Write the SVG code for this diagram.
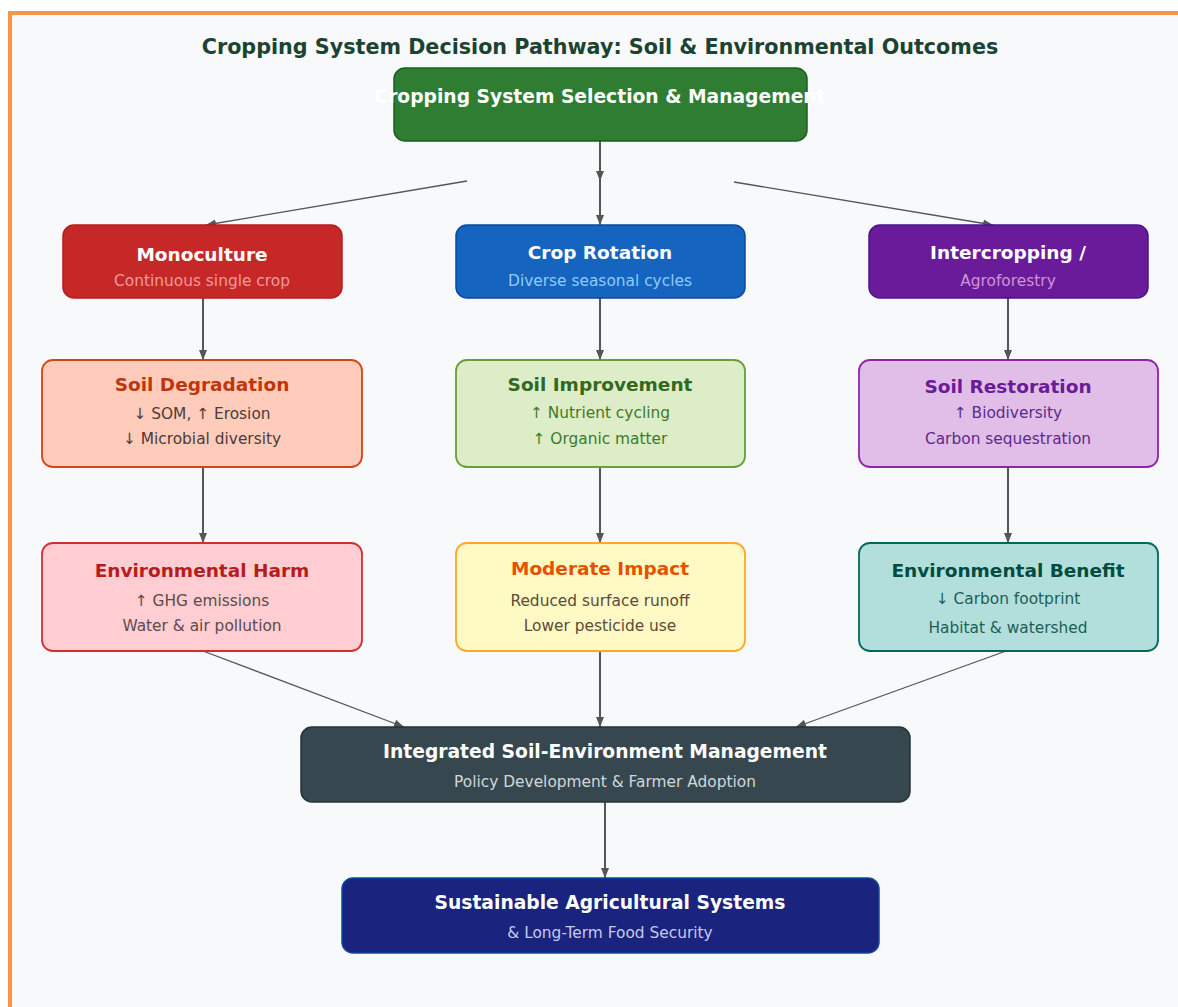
<svg xmlns="http://www.w3.org/2000/svg" width="1178" height="1007" viewBox="0 0 1178 1007">
<style>
text{font-family:"DejaVu Sans","Liberation Sans",sans-serif;text-anchor:middle}
.t{font-weight:bold;font-size:18.5px}
.b{font-weight:bold;font-size:18.7px}
.s{font-size:15.4px}
.w{fill:#ffffff}
.c{stroke:#555555;stroke-width:2;fill:none}
.d{stroke:#555555;stroke-width:1.3;fill:none}
</style>
<defs>
<marker id="ah" viewBox="0 0 10 10" refX="10" refY="5" markerWidth="10" markerHeight="10" markerUnits="userSpaceOnUse" orient="auto">
<path d="M0,1 L10,5 L0,9 z" fill="#555555"/>
</marker>
</defs>
<rect x="0" y="0" width="1178" height="1007" fill="#ffffff"/>
<rect x="10" y="13" width="1220" height="1100" fill="#f8f9fa" stroke="#f79646" stroke-width="4"/>
<text x="600" y="54" style="font-weight:bold;font-size:20.7px;fill:#1b4332">Cropping System Decision Pathway: Soil &amp; Environmental Outcomes</text>

<g id="connectors">
<line class="c" x1="600" y1="141" x2="600" y2="181" marker-end="url(#ah)"/>
<line class="c" x1="600" y1="181" x2="600" y2="225" marker-end="url(#ah)"/>
<line class="d" x1="467" y1="181" x2="206" y2="225" marker-end="url(#ah)"/>
<line class="d" x1="734" y1="182" x2="993" y2="225" marker-end="url(#ah)"/>
<line class="c" x1="203" y1="298" x2="203" y2="360" marker-end="url(#ah)"/>
<line class="c" x1="600" y1="298" x2="600" y2="360" marker-end="url(#ah)"/>
<line class="c" x1="1008" y1="298" x2="1008" y2="360" marker-end="url(#ah)"/>
<line class="c" x1="203" y1="467" x2="203" y2="543" marker-end="url(#ah)"/>
<line class="c" x1="600" y1="467" x2="600" y2="543" marker-end="url(#ah)"/>
<line class="c" x1="1008" y1="467" x2="1008" y2="543" marker-end="url(#ah)"/>
<line class="d" x1="203" y1="651" x2="404" y2="727" marker-end="url(#ah)"/>
<line class="c" x1="600" y1="651" x2="600" y2="727" marker-end="url(#ah)"/>
<line class="d" x1="1006" y1="651" x2="796" y2="727" marker-end="url(#ah)"/>
<line class="c" x1="605" y1="802" x2="605" y2="878" marker-end="url(#ah)"/>
</g>

<g id="n-top">
<rect x="394" y="68" width="413" height="73" rx="11" fill="#2e7d32" stroke="#1b5e20" stroke-width="1.5"/>
<text x="600" y="103" class="b w">Cropping System Selection &amp; Management</text>
</g>

<g id="n-mono">
<rect x="63" y="225" width="279" height="73" rx="11" fill="#c62828" stroke="#b71c1c" stroke-width="1.5"/>
<text x="202" y="261" class="t w">Monoculture</text>
<text x="202" y="286" class="s" fill="#ef9a9a">Continuous single crop</text>
</g>

<g id="n-rot">
<rect x="456" y="225" width="289" height="73" rx="11" fill="#1565c0" stroke="#0d47a1" stroke-width="1.5"/>
<text x="600" y="259" class="t w">Crop Rotation</text>
<text x="600" y="286" class="s" fill="#90caf9">Diverse seasonal cycles</text>
</g>

<g id="n-inter">
<rect x="869" y="225" width="279" height="73" rx="11" fill="#6a1b9a" stroke="#4a148c" stroke-width="1.5"/>
<text x="1008" y="259" class="t w">Intercropping /</text>
<text x="1008" y="286" class="s" fill="#ce93d8">Agroforestry</text>
</g>

<g id="n-deg">
<rect x="42" y="360" width="320" height="107" rx="11" fill="#ffccbc" stroke="#d84315" stroke-width="1.8"/>
<text x="202" y="391" class="t" fill="#bf360c">Soil Degradation</text>
<text x="202" y="419" class="s" fill="#4e3b36">↓ SOM, ↑ Erosion</text>
<text x="202" y="444" class="s" fill="#4e3b36">↓ Microbial diversity</text>
</g>

<g id="n-imp">
<rect x="456" y="360" width="289" height="107" rx="11" fill="#dcedc8" stroke="#689f38" stroke-width="1.8"/>
<text x="600" y="391" class="t" fill="#33691e">Soil Improvement</text>
<text x="600" y="418" class="s" fill="#3f7a2a">↑ Nutrient cycling</text>
<text x="600" y="444" class="s" fill="#3f7a2a">↑ Organic matter</text>
</g>

<g id="n-res">
<rect x="859" y="360" width="299" height="107" rx="11" fill="#e1bee7" stroke="#8e24aa" stroke-width="1.8"/>
<text x="1008" y="393" class="t" fill="#6a1b9a">Soil Restoration</text>
<text x="1008" y="418" class="s" fill="#5c2a8a">↑ Biodiversity</text>
<text x="1008" y="444" class="s" fill="#5c2a8a">Carbon sequestration</text>
</g>

<g id="n-harm">
<rect x="42" y="543" width="320" height="108" rx="11" fill="#ffcdd2" stroke="#d32f2f" stroke-width="1.8"/>
<text x="202" y="577" class="t" fill="#b71c1c">Environmental Harm</text>
<text x="202" y="606" class="s" fill="#5d4a4a">↑ GHG emissions</text>
<text x="202" y="631" class="s" fill="#5d4a4a">Water &amp; air pollution</text>
</g>

<g id="n-mod">
<rect x="456" y="543" width="289" height="108" rx="11" fill="#fff9c4" stroke="#ffa726" stroke-width="1.8"/>
<text x="600" y="575" class="t" fill="#e65100">Moderate Impact</text>
<text x="600" y="606" class="s" fill="#5d4a3a">Reduced surface runoff</text>
<text x="600" y="631" class="s" fill="#5d4a3a">Lower pesticide use</text>
</g>

<g id="n-ben">
<rect x="859" y="543" width="299" height="108" rx="11" fill="#b2dfdb" stroke="#00695c" stroke-width="1.8"/>
<text x="1008" y="577" class="t" fill="#004d40">Environmental Benefit</text>
<text x="1008" y="604" class="s" fill="#1e5e54">↓ Carbon footprint</text>
<text x="1008" y="633" class="s" fill="#1e5e54">Habitat &amp; watershed</text>
</g>

<g id="n-int">
<rect x="301" y="727" width="609" height="75" rx="11" fill="#37474f" stroke="#263238" stroke-width="1.5"/>
<text x="605" y="758" class="b w">Integrated Soil-Environment Management</text>
<text x="605" y="787" class="s" fill="#cfd8dc">Policy Development &amp; Farmer Adoption</text>
</g>

<g id="n-sus">
<rect x="342" y="878" width="537" height="75" rx="11" fill="#1a237e" stroke="#0d47a1" stroke-width="1.5"/>
<text x="610" y="909" class="b w">Sustainable Agricultural Systems</text>
<text x="610" y="938" class="s" fill="#c5cae9">&amp; Long-Term Food Security</text>
</g>
</svg>
